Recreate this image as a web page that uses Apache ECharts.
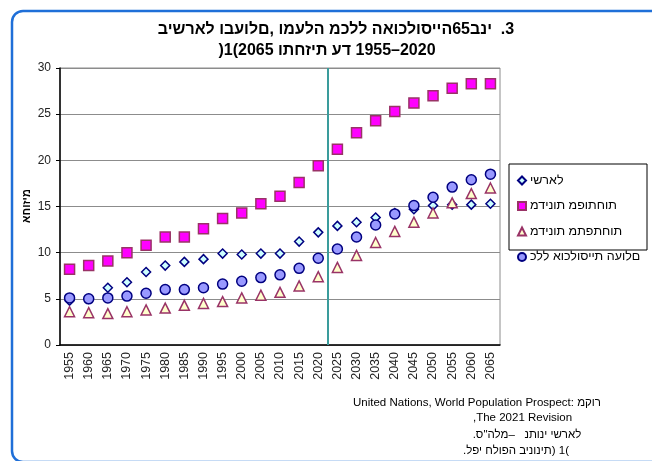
<!DOCTYPE html>
<html>
<head>
<meta charset="utf-8">
<script src="https://cdn.jsdelivr.net/npm/echarts@6/dist/echarts.min.js"></script>
<style>
html,body{margin:0;padding:0;background:#fff;}
#c{width:652px;height:461px;}
</style>
</head>
<body>
<div id="c"></div>
<script>
var years = ['1955','1960','1965','1970','1975','1980','1985','1990','1995','2000','2005','2010','2015','2020','2025','2030','2035','2040','2045','2050','2055','2060','2065'];
var israel     = [4.8, 5.0, 6.2, 6.8, 7.9, 8.6, 9.0, 9.3, 9.9, 9.8, 9.9, 9.9, 11.2, 12.2, 12.9, 13.3, 13.8, 14.3, 14.7, 15.1, 15.2, 15.2, 15.3];
var developed  = [8.2, 8.6, 9.1, 10.0, 10.8, 11.7, 11.7, 12.6, 13.7, 14.3, 15.3, 16.1, 17.6, 19.4, 21.2, 23.0, 24.3, 25.3, 26.2, 27.0, 27.8, 28.3, 28.3];
var developing = [3.6, 3.5, 3.4, 3.6, 3.8, 4.0, 4.3, 4.5, 4.7, 5.1, 5.4, 5.7, 6.4, 7.4, 8.4, 9.7, 11.1, 12.3, 13.3, 14.3, 15.4, 16.4, 17.0];
var world      = [5.1, 5.0, 5.1, 5.3, 5.6, 6.0, 6.0, 6.2, 6.6, 6.9, 7.3, 7.6, 8.3, 9.4, 10.4, 11.7, 13.0, 14.2, 15.1, 16.0, 17.1, 17.9, 18.5];
var seriesNames = ['לארשי', 'תוחתופמ תונידמ', 'תוחתפתמ תונידמ', 'םלועה תייסולכוא ללכ'];
var yTicks = [0, 5, 10, 15, 20, 25, 30];
var titleLines = ['3.  ינב65הייסולכואה ללכמ הלעמו ,םלועבו לארשיב', '2020–1955 דע תיזחתו 2065)1('];
var yAxisName = 'מיזוחא';
var footLines = ['United Nations, World Population Prospect: רוקמ', ',The 2021 Revision', 'לארשי ינותנ   –מלה"ס.', ')1 (תינוניב הפולח יפל.'];
var splitYear = '2020';

var FONT = '"Liberation Sans", Arial, sans-serif';
var chart = echarts.init(document.getElementById('c'), null, {renderer: 'canvas'});
var boundary = years.indexOf(splitYear) + 1;

// paragraph direction from the first strong character (Hebrew -> right-to-left)
function auto(s) {
  var m = s.match(/[A-Za-z\u0590-\u05FF]/);
  if (m && /[\u0590-\u05FF]/.test(m[0])) return '\u202B' + s + '\u202C';
  return s;
}

function sc(name, data, symbol, size, fill, stroke) {
  return {
    name: name, type: 'line', data: data, symbol: symbol, symbolSize: size,
    lineStyle: {width: 0, opacity: 0}, showSymbol: true,
    itemStyle: {color: fill, borderColor: stroke, borderWidth: 1.5},
    z: 3, animation: false
  };
}

function txt(s, x, y, font, align) {
  return {type: 'text', x: x, y: y, style: {text: auto(s), font: font, fill: '#000', textAlign: align, textVerticalAlign: 'middle'}};
}

var option = {
  backgroundColor: '#fff',
  animation: false,
  textStyle: {fontFamily: FONT},
  grid: {left: 60, right: 152, top: 68, bottom: 116, show: true, borderColor: '#8c8c8c', borderWidth: 1},
  xAxis: [{
    type: 'category', data: years, boundaryGap: true,
    axisLine: {lineStyle: {color: '#000', width: 1.5}},
    axisTick: {show: false},
    axisLabel: {rotate: 90, interval: 0, color: '#222', fontSize: 12.5, fontFamily: FONT, margin: 7},
    splitLine: {show: false}
  }, {
    type: 'value', min: 0, max: years.length, show: false
  }],
  yAxis: {
    type: 'value', min: yTicks[0], max: yTicks[yTicks.length - 1], interval: 5,
    axisLine: {show: true, lineStyle: {color: '#000', width: 1.5}},
    axisTick: {show: true, length: 4, lineStyle: {color: '#000'}},
    axisLabel: {color: '#222', fontSize: 12, fontFamily: FONT, margin: 9},
    splitLine: {lineStyle: {color: '#8c8c8c', width: 1}}
  },
  legend: {
    orient: 'vertical', left: 512, top: 169, itemWidth: 10, itemHeight: 10, itemGap: 12.5,
    textStyle: {fontSize: 12.5, color: '#000', fontFamily: FONT, padding: [0,0,0,-2]},
    data: seriesNames
  },
  series: [
    sc(seriesNames[0], israel, 'diamond', 9, '#ccffff', '#000080'),
    sc(seriesNames[1], developed, 'rect', 10, '#ff00ff', '#993366'),
    sc(seriesNames[2], developing, 'triangle', 10, '#ffffcc', '#993366'),
    sc(seriesNames[3], world, 'circle', 10, '#9999ff', '#000080'),
    {
      type: 'line', xAxisIndex: 1, yAxisIndex: 0, data: [], symbol: 'none', silent: true,
      markLine: {symbol: 'none', silent: true, label: {show: false},
        lineStyle: {color: '#3a9c9c', width: 2, type: 'solid'},
        data: [{xAxis: boundary}]}
    }
  ],
  graphic: [
    {type: 'rect', z: -1, shape: {x: 12, y: 11, width: 700, height: 451, r: 11},
      style: {fill: '#fff', stroke: '#1f6fd8', lineWidth: 2.5}},
    {type: 'rect', z: 1, shape: {x: 509, y: 164, width: 138, height: 86},
      style: {fill: '#fff', stroke: '#000', lineWidth: 1}},
    {type: 'text', x: 27, y: 206, rotation: Math.PI / 2,
      style: {text: yAxisName, font: 'bold 11px ' + FONT, fill: '#000', textAlign: 'center', textVerticalAlign: 'middle'}},
    txt(titleLines[0], 336, 30, 'bold 16px ' + FONT, 'center'),
    txt(titleLines[1], 327, 51, 'bold 16px ' + FONT, 'center'),
    txt(footLines[0], 353, 403, '11.5px ' + FONT, 'left'),
    txt(footLines[1], 473, 418, '11.5px ' + FONT, 'left'),
    txt(footLines[2], 527, 435, '11.5px ' + FONT, 'center'),
    txt(footLines[3], 516, 451, '11.5px ' + FONT, 'center')
  ]
};
chart.setOption(option);
</script>
</body>
</html>
